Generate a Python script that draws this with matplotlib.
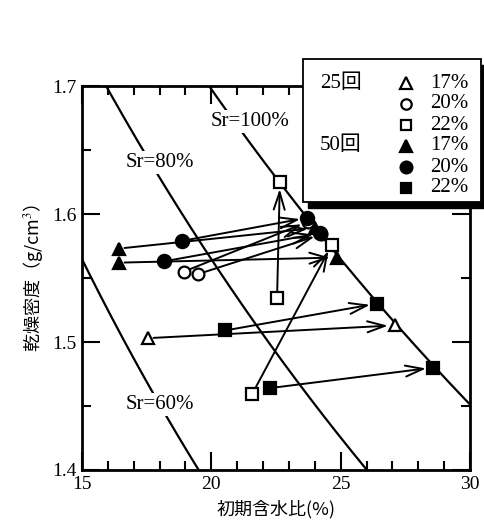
import numpy as np
import matplotlib
matplotlib.use("Agg")
import matplotlib.pyplot as plt
from matplotlib.patches import Rectangle
from matplotlib.lines import Line2D

plt.rcParams['font.family'] = ['Liberation Serif', 'Noto Sans CJK JP']
plt.rcParams['mathtext.fontset'] = 'stix'

# initial water content (%) / dry density (g/cm3): start -> end of each arrow
# 25 blows, open markers
w0_25_17 = [17.55]
d0_25_17 = [1.503]
w1_25_17 = [27.1]
d1_25_17 = [1.513]

w0_25_20 = [18.94, 19.48]
d0_25_20 = [1.555, 1.553]
w1_25_20 = [23.75, 24.25]
d1_25_20 = [1.594, 1.584]

w0_25_22 = [22.54, 21.57]
d0_25_22 = [1.534, 1.459]
w1_25_22 = [22.65, 24.66]
d1_25_22 = [1.625, 1.576]

# 50 blows, filled markers
w0_50_17 = [16.43, 16.43]
d0_50_17 = [1.573, 1.562]
w1_50_17 = [24.0, 24.86]
d1_50_17 = [1.589, 1.566]

w0_50_20 = [18.87, 18.17]
d0_50_20 = [1.579, 1.563]
w1_50_20 = [23.7, 24.2]
d1_50_20 = [1.597, 1.585]

w0_50_22 = [20.53, 22.27]
d0_50_22 = [1.509, 1.464]
w1_50_22 = [26.4, 28.57]
d1_50_22 = [1.530, 1.480]

sr_levels = [100, 80, 60]
sr_label_pos = [(21.5, 1.672), (18.0, 1.640), (18.0, 1.451)]
Gs = 2.57
legend_groups = ["25回", "50回"]
legend_labels = ["17%", "20%", "22%"]

fig = plt.figure(figsize=(4.84, 5.31), dpi=100)
ax = fig.add_axes([82/484, 1-470/531, 388/484, 384/531])

# saturation curves: rho_d = 1 / (w/Sr + 1/Gs)
w = np.linspace(14, 31, 200)
for sr, (lx, ly) in zip(sr_levels, sr_label_pos):
    rho = 1.0 / (w / sr + 1.0 / Gs)
    ax.plot(w, rho, color='k', lw=1.6, zorder=2)
    ax.text(lx, ly, f"Sr={sr}%", fontsize=15, ha='center', va='center', zorder=3,
            bbox=dict(facecolor='white', edgecolor='none', pad=1.5))

series = [
    (w0_25_17, d0_25_17, w1_25_17, d1_25_17, '^', 'white', 9),
    (w0_25_20, d0_25_20, w1_25_20, d1_25_20, 'o', 'white', 8.5),
    (w0_25_22, d0_25_22, w1_25_22, d1_25_22, 's', 'white', 8),
    (w0_50_17, d0_50_17, w1_50_17, d1_50_17, '^', 'black', 9),
    (w0_50_20, d0_50_20, w1_50_20, d1_50_20, 'o', 'black', 9.5),
    (w0_50_22, d0_50_22, w1_50_22, d1_50_22, 's', 'black', 8.5),
]

for xs0, ys0, xs1, ys1, mk, fc, ms in series:
    for a, b, c, d in zip(xs0, ys0, xs1, ys1):
        ax.annotate('', xy=(c, d), xytext=(a, b), zorder=4,
                    arrowprops=dict(arrowstyle='->,head_length=0.7,head_width=0.22',
                                    lw=1.4, color='k', shrinkA=4, shrinkB=5,
                                    mutation_scale=18))

for xs0, ys0, xs1, ys1, mk, fc, ms in series:
    z = 5 if fc == 'white' else 6
    ax.plot(xs0 + xs1, ys0 + ys1, ls='none', marker=mk, ms=ms, mfc=fc,
            mec='k', mew=1.6, zorder=z)

ax.set_xlim(15, 30)
ax.set_ylim(1.4, 1.7)
ax.set_xticks([15, 20, 25, 30])
ax.set_xticks(np.arange(15, 31, 1), minor=True)
ax.set_yticks([1.4, 1.5, 1.6, 1.7])
ax.set_yticks(np.arange(1.4, 1.71, 0.05), minor=True)
ax.set_yticklabels(["1.4", "1.5", "1.6", "1.7"])
ax.tick_params(which='both', direction='in', top=True, right=True, width=1.5,
               labelsize=14, colors='k')
ax.tick_params(which='major', length=13, pad=4)
ax.tick_params(which='minor', length=6.5)
for s in ax.spines.values():
    s.set_linewidth(2)

ax.set_xlabel("初期含水比(%)", fontsize=13, family=['Noto Sans CJK JP', 'Liberation Serif'],
              labelpad=5)
ax.set_ylabel("乾燥密度（g/cm$^3$）", fontsize=13,
              family=['Noto Sans CJK JP', 'Liberation Serif'], labelpad=5)

# legend box with drop shadow, placed in figure pixels
def fx(px):
    return px / 484

def fy(py):
    return 1 - py / 531

bx0, bx1, by0, by1 = 303, 481, 59, 202
fig.add_artist(Rectangle((fx(bx0 + 5), fy(by1 + 6)), fx(bx1 - bx0), fy(by0) - fy(by1),
                         transform=fig.transFigure, facecolor='k', edgecolor='k', zorder=10))
fig.add_artist(Rectangle((fx(bx0), fy(by1)), fx(bx1 - bx0), fy(by0) - fy(by1),
                         transform=fig.transFigure, facecolor='white', edgecolor='k',
                         lw=1.3, zorder=11))

row_y = [83, 104, 125, 146, 167, 188]
for g, grp in enumerate(legend_groups):
    fig.text(fx(320), fy(row_y[3 * g]), grp, fontsize=15, va='center', ha='left', zorder=12)
for k, (xs0, ys0, xs1, ys1, mk, fc, ms) in enumerate(series):
    fig.add_artist(Line2D([fx(406)], [fy(row_y[k])], transform=fig.transFigure, marker=mk,
                          ms=ms - 1, mfc=fc, mec='k', mew=1.6, ls='none', zorder=12))
    fig.text(fx(430), fy(row_y[k]), legend_labels[k % 3], fontsize=15, va='center',
             ha='left', zorder=12)

fig.savefig("out.png", dpi=100)
